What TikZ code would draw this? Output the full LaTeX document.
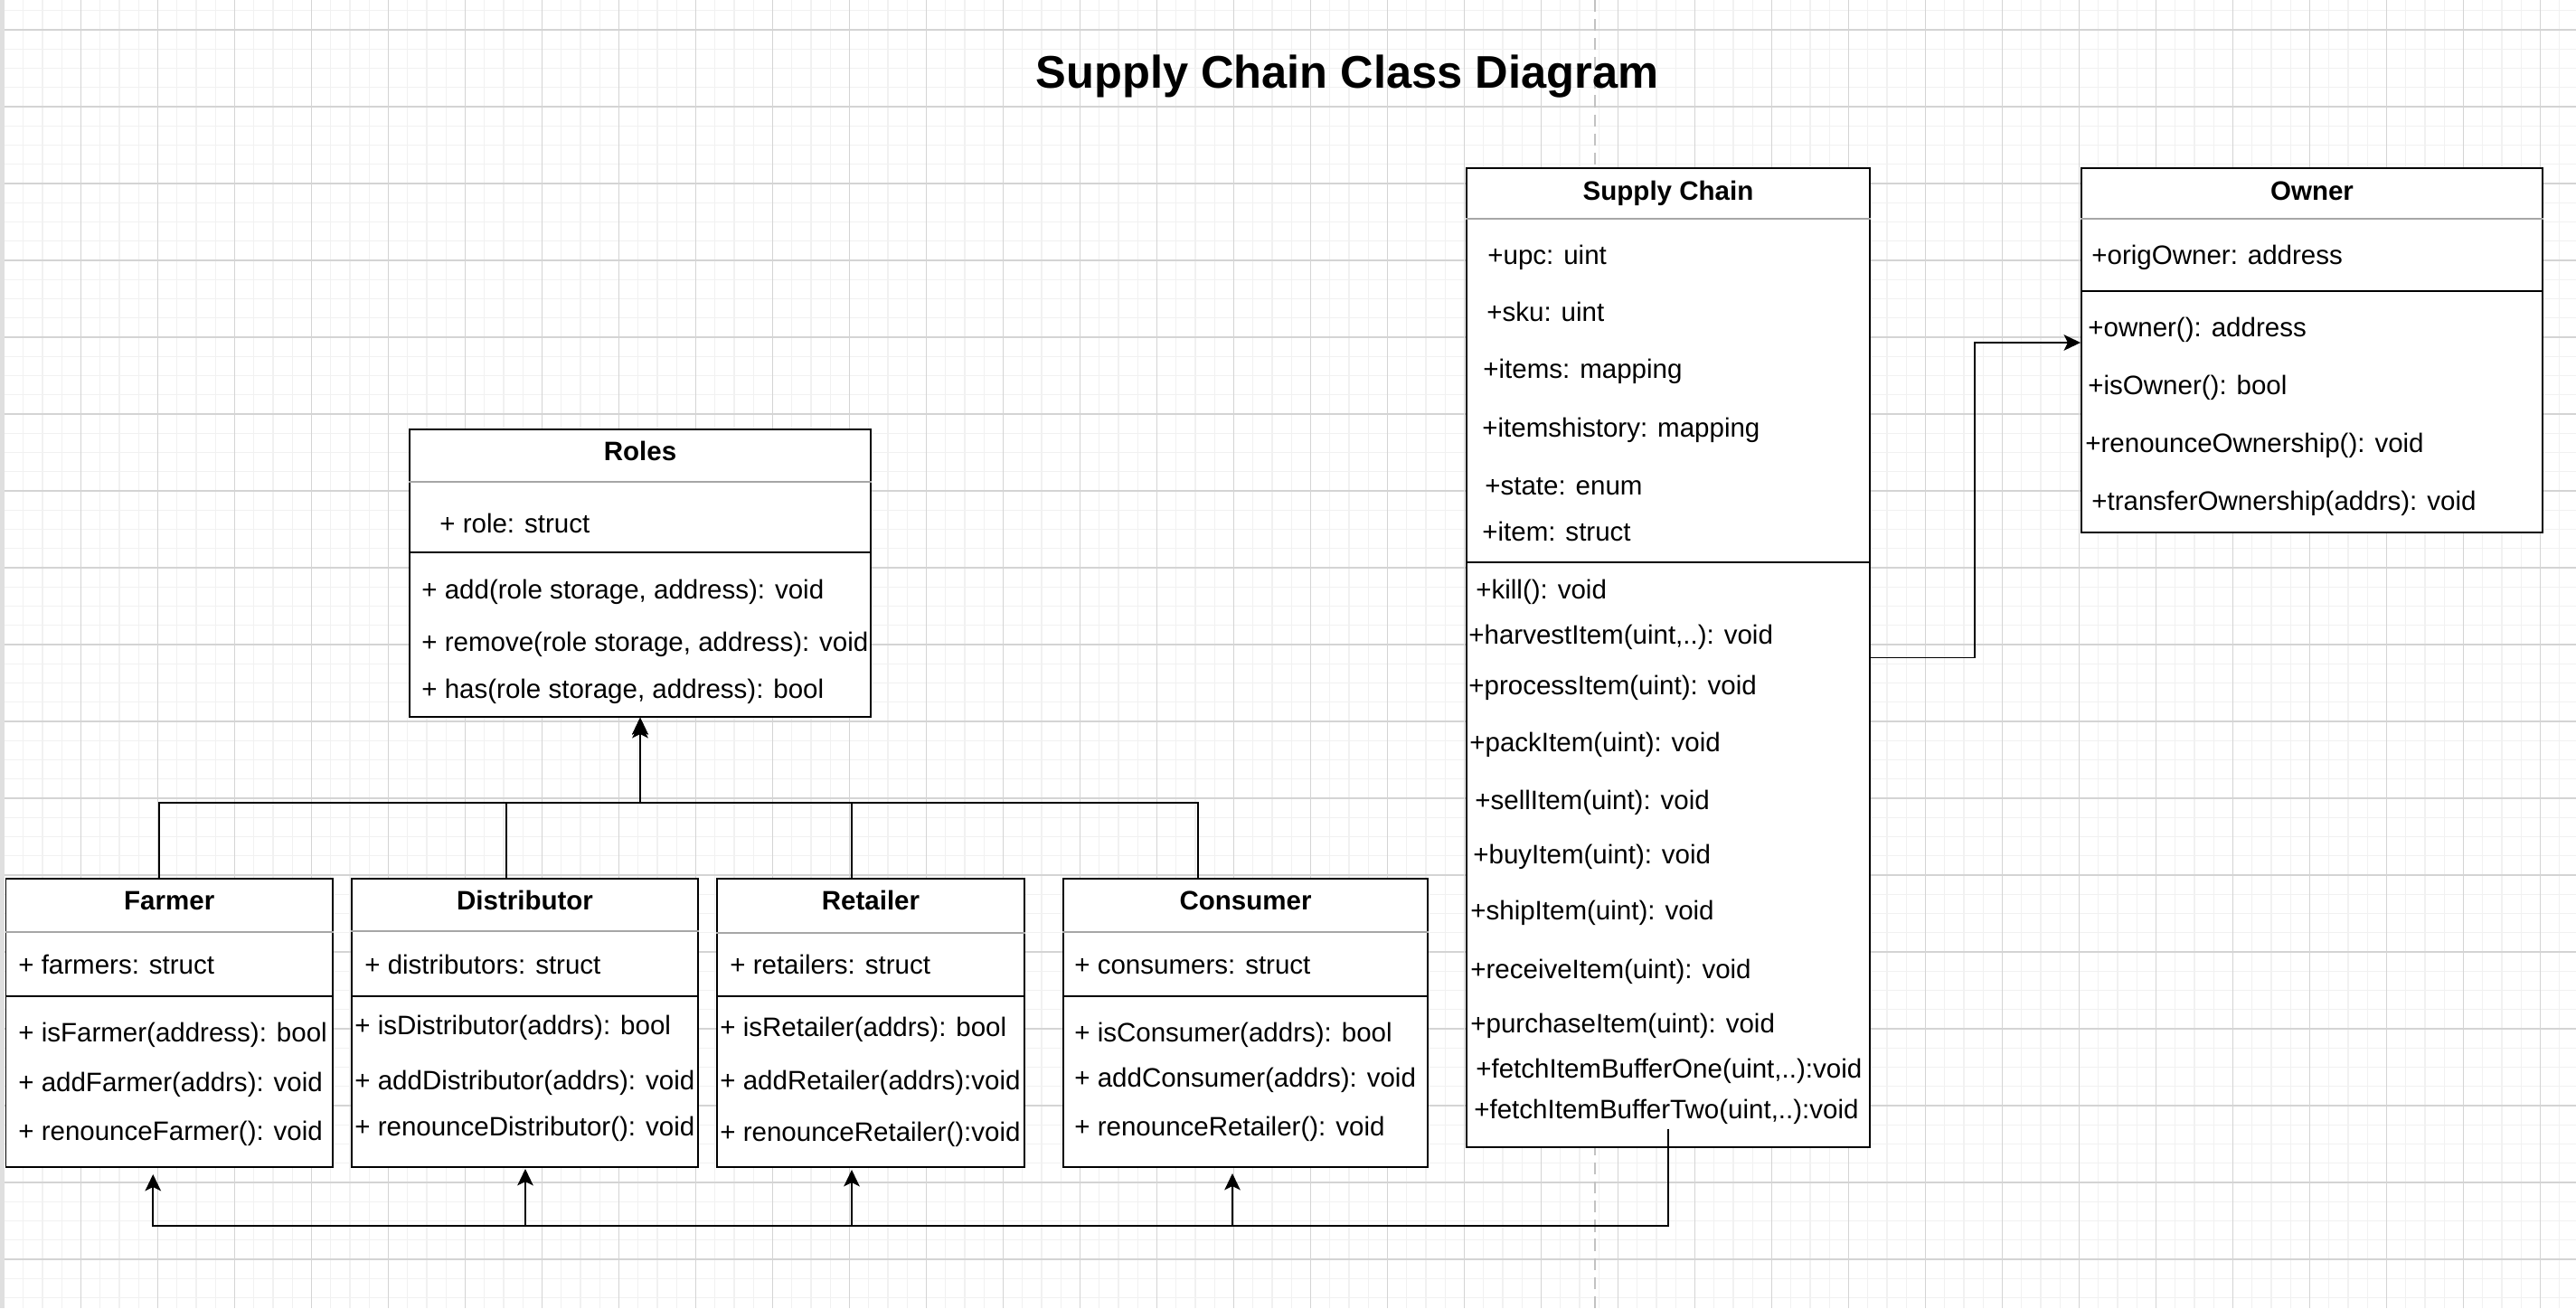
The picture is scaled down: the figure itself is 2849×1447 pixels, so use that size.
\documentclass[tikz,border=0pt]{standalone}
\usepackage{fontspec}
\setmainfont{Liberation Sans}
\usepackage{tikz}
\usetikzlibrary{arrows.meta}
\usetikzlibrary{positioning}
\usetikzlibrary{fit,calc}
\definecolor{gridmajor}{HTML}{D4D4D4}
\definecolor{gridminor}{HTML}{F1F1F1}
\definecolor{sepgray}{HTML}{A6A6A6}
\definecolor{pagedash}{HTML}{C2C2C2}
\tikzset{
    umlclass/.style={
           rectangle,
           draw=black, line width=1.1pt,
           fill=white,
           inner sep=0pt,
           },
    umltitle/.style={
           font=\fontsize{16.8}{20}\selectfont\bfseries,
           inner sep=0pt,
           text height=12.1pt, text depth=0pt,
           },
    member/.style={
           font=\fontsize{16.8}{20}\selectfont,
           anchor=west,
           inner sep=0pt,
           text height=12.1pt, text depth=0pt,
           },
    headsep/.style={draw=sepgray, line width=1pt},
    partsep/.style={draw=black, line width=1.1pt},
    link/.style={draw=black, line width=1pt},
}

\begin{document}
\begin{tikzpicture}
[
x=0.02cm, y=-0.02cm,
->,>={Stealth[length=10.5pt,width=10pt,inset=2.5pt]}
]
\useasboundingbox (0,0) rectangle (2849,1447);

 % page background: grid of the editor
 \fill[gray!25] (0,0) rectangle (5,1447);
 \begin{scope}[-]
 \clip (5,0) rectangle (2849,1447);
 \foreach \gx in {0,...,134}
   \draw[gridminor, line width=0.8pt] ({4.5+21.25*\gx},0) -- ({4.5+21.25*\gx},1447);
 \foreach \gy in {0,...,69}
   \draw[gridminor, line width=0.8pt] (0,{-9.5+21.25*\gy}) -- (2849,{-9.5+21.25*\gy});
 \foreach \gx in {0,...,33}
   \draw[gridmajor, line width=0.6pt] ({4.5+85*\gx},0) -- ({4.5+85*\gx},1447);
 \foreach \gy in {0,...,16}
   \draw[gridmajor, line width=0.6pt] (0,{33+85*\gy}) -- (2849,{33+85*\gy});
 \draw[pagedash, line width=1.2pt, dash pattern=on 7.5pt off 4.5pt] (1764,0) -- (1764,1447);
 \end{scope}

 % Title
 \node[font=\fontsize{28.8}{34}\selectfont\bfseries, inner sep=0pt,
 text height=20.7pt, text depth=0pt] (TITLE) at (1490,79)
 {%
Supply Chain Class Diagram
 };

 % Class: Roles
 \node[umlclass, fit={(453,475) (963,793)}] (ROLES) {};
 \node[umltitle] (ROLEStitle) at ($(ROLES.north)+(0,25)$) {Roles};
 \draw[headsep,-] (ROLES.west |- 0,533) -- (ROLES.east |- 0,533);
 \draw[partsep,-] (ROLES.west |- 0,611) -- (ROLES.east |- 0,611);
 \node[member] (ROLESattr1) at (486,579) {+ role: struct};
 \node[member] (ROLESop1) at (466,652) {+ add(role storage, address): void};
 \node[member] (ROLESop2) at (466,710) {+ remove(role storage, address): void};
 \node[member] (ROLESop3) at (466,762) {+ has(role storage, address): bool};

 % Class: Supply Chain
 \node[umlclass, fit={(1622,186) (2068,1269)}] (SC) {};
 \node[umltitle] (SCtitle) at ($(SC.north)+(0,26)$) {Supply Chain};
 \draw[headsep,-] (SC.west |- 0,242) -- (SC.east |- 0,242);
 \draw[partsep,-] (SC.west |- 0,622) -- (SC.east |- 0,622);
 \node[member] (SCattr1) at (1645,282) {+upc: uint};
 \node[member] (SCattr2) at (1644,345) {+sku: uint};
 \node[member] (SCattr3) at (1640,408) {+items: mapping};
 \node[member] (SCattr4) at (1639,473) {+itemshistory: mapping};
 \node[member] (SCattr5) at (1642,537) {+state: enum};
 \node[member] (SCattr6) at (1639,588) {+item: struct};
 \node[member] (SCop1) at (1632,652) {+kill(): void};
 \node[member] (SCop2) at (1624,702) {+harvestItem(uint,..): void};
 \node[member] (SCop3) at (1624,758) {+processItem(uint): void};
 \node[member] (SCop4) at (1625,821) {+packItem(uint): void};
 \node[member] (SCop5) at (1631,885) {+sellItem(uint): void};
 \node[member] (SCop6) at (1629,945) {+buyItem(uint): void};
 \node[member] (SCop7) at (1626,1007) {+shipItem(uint): void};
 \node[member] (SCop8) at (1626,1072) {+receiveItem(uint): void};
 \node[member] (SCop9) at (1626,1132) {+purchaseItem(uint): void};
 \node[member] (SCop10) at (1632,1182) {+fetchItemBufferOne(uint,..):void};
 \node[member] (SCop11) at (1630,1227) {+fetchItemBufferTwo(uint,..):void};

 % Class: Owner
 \node[umlclass, fit={(2302,186) (2812,589)}] (OWNER) {};
 \node[umltitle] (OWNERtitle) at ($(OWNER.north)+(0,26)$) {Owner};
 \draw[headsep,-] (OWNER.west |- 0,242) -- (OWNER.east |- 0,242);
 \draw[partsep,-] (OWNER.west |- 0,322) -- (OWNER.east |- 0,322);
 \node[member] (OWNERattr1) at (2313,282) {+origOwner: address};
 \node[member] (OWNERop1) at (2309,362) {+owner(): address};
 \node[member] (OWNERop2) at (2309,426) {+isOwner(): bool};
 \node[member] (OWNERop3) at (2306,490) {+renounceOwnership(): void};
 \node[member] (OWNERop4) at (2313,554) {+transferOwnership(addrs): void};

 % Class: Farmer
 \node[umlclass, fit={(6.5,972) (368,1291)}] (FARMER) {};
 \node[umltitle] (FARMERtitle) at ($(FARMER.north)+(0,25)$) {Farmer};
 \draw[headsep,-] (FARMER.west |- 0,1031) -- (FARMER.east |- 0,1031);
 \draw[partsep,-] (FARMER.west |- 0,1102) -- (FARMER.east |- 0,1102);
 \node[member] (FARMERattr1) at (20,1067) {+ farmers: struct};
 \node[member] (FARMERop1) at (20,1142) {+ isFarmer(address): bool};
 \node[member] (FARMERop2) at (20,1197) {+ addFarmer(addrs): void};
 \node[member] (FARMERop3) at (20,1251) {+ renounceFarmer(): void};

 % Class: Distributor
 \node[umlclass, fit={(389,972) (772,1291)}] (DISTRIB) {};
 \node[umltitle] (DISTRIBtitle) at ($(DISTRIB.north)+(0,25)$) {Distributor};
 \draw[headsep,-] (DISTRIB.west |- 0,1030) -- (DISTRIB.east |- 0,1030);
 \draw[partsep,-] (DISTRIB.west |- 0,1102) -- (DISTRIB.east |- 0,1102);
 \node[member] (DISTRIBattr1) at (403,1067) {+ distributors: struct};
 \node[member] (DISTRIBop1) at (392,1134) {+ isDistributor(addrs): bool};
 \node[member] (DISTRIBop2) at (392,1195) {+ addDistributor(addrs): void};
 \node[member] (DISTRIBop3) at (392,1246) {+ renounceDistributor(): void};

 % Class: Retailer
 \node[umlclass, fit={(793,972) (1133,1291)}] (RETAIL) {};
 \node[umltitle] (RETAILtitle) at ($(RETAIL.north)+(0,25)$) {Retailer};
 \draw[headsep,-] (RETAIL.west |- 0,1032) -- (RETAIL.east |- 0,1032);
 \draw[partsep,-] (RETAIL.west |- 0,1102) -- (RETAIL.east |- 0,1102);
 \node[member] (RETAILattr1) at (807,1067) {+ retailers: struct};
 \node[member] (RETAILop1) at (796,1136) {+ isRetailer(addrs): bool};
 \node[member] (RETAILop2) at (796,1195) {+ addRetailer(addrs):void};
 \node[member] (RETAILop3) at (796,1252) {+ renounceRetailer():void};

 % Class: Consumer
 \node[umlclass, fit={(1176,972) (1579,1291)}] (CONSUM) {};
 \node[umltitle] (CONSUMtitle) at ($(CONSUM.north)+(0,25)$) {Consumer};
 \draw[headsep,-] (CONSUM.west |- 0,1031) -- (CONSUM.east |- 0,1031);
 \draw[partsep,-] (CONSUM.west |- 0,1102) -- (CONSUM.east |- 0,1102);
 \node[member] (CONSUMattr1) at (1188,1067) {+ consumers: struct};
 \node[member] (CONSUMop1) at (1188,1142) {+ isConsumer(addrs): bool};
 \node[member] (CONSUMop2) at (1188,1192) {+ addConsumer(addrs): void};
 \node[member] (CONSUMop3) at (1188,1246) {+ renounceRetailer(): void};

 % inheritance: every role class up to Roles
 \draw[link] ($(FARMER.north)+(-11,0)$) |- ($(ROLES.south)+(0,94)$) -- (ROLES.south);
 \draw[link] ($(DISTRIB.north)+(-20.5,0)$) |- ($(ROLES.south)+(0,94)$) -- (ROLES.south);
 \draw[link] ($(RETAIL.north)+(-21,0)$) |- ($(ROLES.south)+(0,94)$) -- (ROLES.south);
 \draw[link] ($(CONSUM.north)+(-52.5,0)$) |- ($(ROLES.south)+(0,94)$) -- ($(ROLES.south)+(0,4)$);

 % Supply Chain uses Owner
 \draw[link] (SC.east) -| ($(OWNER.west)+(-117,-8.5)$) -- ($(OWNER.west)+(0,-8.5)$);

 % Supply Chain down to the role classes
 \draw[link] ($(SC.south)+(0,-21)$) |- ($(FARMER.south)+(-18,64)$) -- ($(FARMER.south)+(-18,7)$);
 \draw[link] ($(SC.south)+(0,-21)$) |- ($(DISTRIB.south)+(0.5,64)$) -- ($(DISTRIB.south)+(0.5,1)$);
 \draw[link] ($(SC.south)+(0,-21)$) |- ($(RETAIL.south)+(-21,64)$) -- ($(RETAIL.south)+(-21,2)$);
 \draw[link] ($(SC.south)+(0,-21)$) |- ($(CONSUM.south)+(-14.5,64)$) -- ($(CONSUM.south)+(-14.5,6)$);
\end{tikzpicture}
\end{document}
